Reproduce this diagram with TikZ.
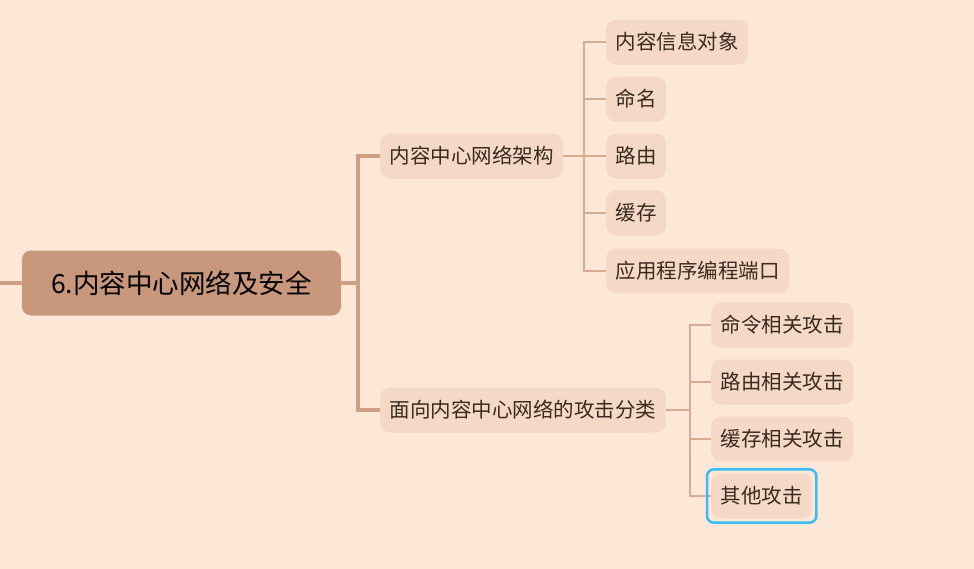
\documentclass[tikz,border=0pt]{standalone}
\usepackage{fontspec}
\setmainfont{Noto Sans CJK SC}
\usetikzlibrary{positioning}
\definecolor{paper}{HTML}{FDE8D8}
\definecolor{rootfill}{HTML}{C9987C}
\definecolor{leaffill}{HTML}{F5D9C6}
\definecolor{trunkline}{HTML}{CF9F84}
\definecolor{twigline}{HTML}{D8AB90}
\definecolor{ink}{HTML}{3A2A20}
\definecolor{pick}{HTML}{38BDF8}

\begin{document}
\begin{tikzpicture}[x=1pt,y=-1pt,
    rootbox/.style={fill=rootfill,rounded corners=9pt,minimum width=319pt,minimum height=65pt,
      font=\fontsize{26.5}{31}\selectfont,text=black,inner sep=0pt},
    topicbox/.style={fill=leaffill,rounded corners=10pt,anchor=west,minimum height=45pt,
      inner xsep=9.5pt,inner ysep=0pt,font=\fontsize{20.5}{24}\selectfont,text=ink},
    trunk/.style={trunkline,line width=3.5pt},
    twig/.style={twigline,line width=1.8pt}]
  % background
  \useasboundingbox (0,0) rectangle (974,568);
  \fill[paper] (-3,-3) rectangle (977,571);

  % root
  \node[rootbox] (root) at (181.5,283) {6.内容中心网络及安全};
  \coordinate (stub) at (-3,283);
  \draw[trunk] (stub) -- (root.west);

  % main topics
  \node[topicbox] (arch) at (380,156) {内容中心网络架构};
  \node[topicbox] (atk) at (380,410) {面向内容中心网络的攻击分类};
  \coordinate (j0) at (358,283);
  \draw[trunk] (root.east) -- (j0) |- (arch.west);
  \draw[trunk] (j0) |- (atk.west);

  % architecture subtopics
  \node[topicbox] (obj) at (606,42) {内容信息对象};
  \node[topicbox] (name) at (606,99) {命名};
  \node[topicbox] (route) at (606,156) {路由};
  \node[topicbox] (cache) at (606,213) {缓存};
  \node[topicbox] (api) at (606,271) {应用程序编程端口};
  \coordinate (j1) at (584,156);
  \draw[twig] (arch.east) -- (j1);
  \foreach \n in {obj,name,route,cache,api}
    \draw[twig] (j1) |- (\n.west);

  % attack subtopics
  \node[topicbox] (cmd) at (711,325) {命令相关攻击};
  \node[topicbox] (ratk) at (711,382) {路由相关攻击};
  \node[topicbox] (catk) at (711,439) {缓存相关攻击};
  \node[topicbox] (other) at (711,496) {其他攻击};
  \coordinate (j2) at (690,410);
  \draw[twig] (atk.east) -- (j2);
  \foreach \n in {cmd,ratk,catk,other}
    \draw[twig] (j2) |- (\n.west);

  % selection frame
  \draw[pick,line width=2.5pt,rounded corners=7pt]
    ([xshift=-4pt,yshift=-4pt]other.south west) rectangle ([xshift=4pt,yshift=4pt]other.north east);
\end{tikzpicture}
\end{document}
